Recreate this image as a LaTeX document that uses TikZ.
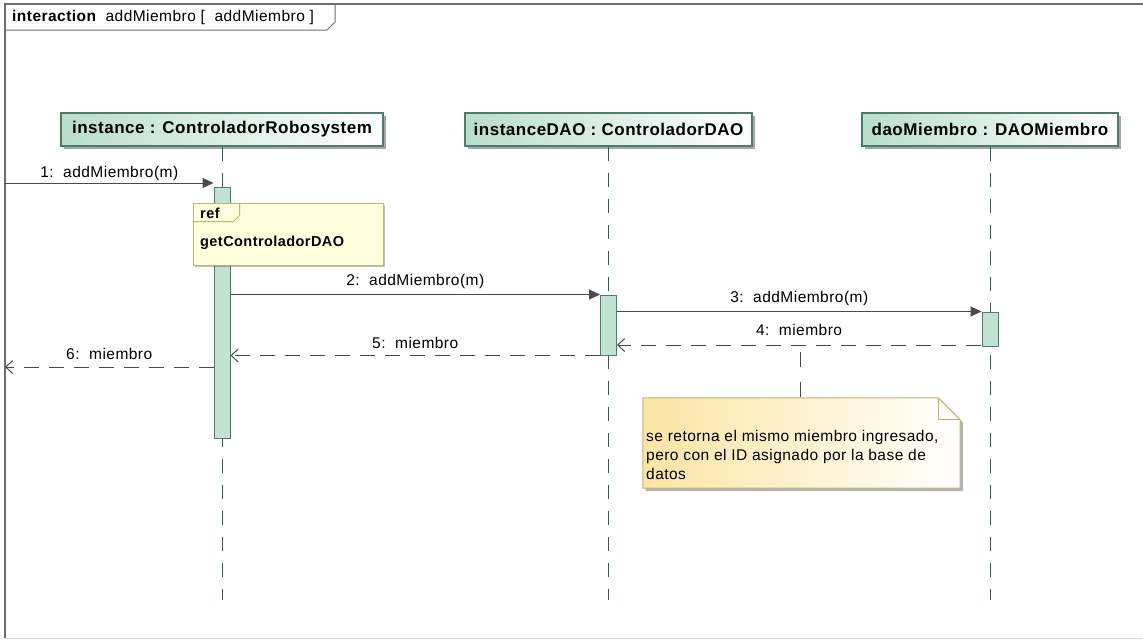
\documentclass[tikz,border=0pt]{standalone}
\usepackage{fontspec}
\setmainfont{Liberation Sans}[LetterSpace=3]
\usetikzlibrary{arrows.meta,shadows}
\definecolor{frameC}{HTML}{6E6E6E}
\definecolor{headL}{HTML}{B9DECB}
\definecolor{headB}{HTML}{4D7D65}
\definecolor{actF}{HTML}{C2E3D3}
\definecolor{actB}{HTML}{4E7E66}
\definecolor{lifeC}{HTML}{2E5E48}
\definecolor{msgC}{HTML}{4A4A4A}
\definecolor{refF}{HTML}{FFFFDD}
\definecolor{refB}{HTML}{BDB772}
\definecolor{noteL}{HTML}{FCE5A2}
\definecolor{noteB}{HTML}{C2B27A}
\begin{document}
\begin{tikzpicture}[x=1pt,y=-1pt,
  headbox/.style={draw=headB, line width=1.2pt, left color=headL, right color=white,
    minimum height=33pt, inner sep=0pt,
    font=\bfseries\fontsize{17}{20}\selectfont,
    drop shadow={shadow xshift=3pt, shadow yshift=-3pt, fill=black, opacity=0.35}},
  life/.style={draw=lifeC, line width=0.9pt, dash pattern=on 14pt off 12pt},
  actbox/.style={draw=actB, line width=1pt, fill=actF, minimum width=16pt, inner sep=0pt},
  msg/.style={draw=msgC, line width=1pt, -{Triangle[length=11pt,width=10pt]}},
  ret/.style={draw=msgC, line width=1pt, dash pattern=on 15pt off 10pt, -{Straight Barb[length=7pt,width=13pt]}},
  lbl/.style={font=\fontsize{15.5}{18}\selectfont, text=black, inner sep=0pt, anchor=center, yshift=13pt},
  reffont/.style={font=\bfseries\fontsize{14.5}{17}\selectfont, inner sep=0pt}
]
\useasboundingbox (0,0) rectangle (1143,640);
\fill[white] (0,0) rectangle (1143,640);

% frame
\draw[black!15, line width=1pt] (5,638) -- (1143,638);
\draw[frameC, line width=1.2pt] (5,638) -- (5,4) -- (1143,4);
\node[anchor=west, inner sep=0pt, font=\fontsize{15.5}{18}\selectfont] (title) at (12,17)
  {{\bfseries interaction}\ \ addMiembro [\ \ addMiembro ]};
\draw[frameC, line width=1pt] (5,30) -- (327,30) -- (335,22) -- (335,4);

% lifeline heads
\node[headbox, minimum width=322pt] (h1) at (222,129.5) {instance : ControladorRobosystem};
\node[headbox, minimum width=287pt] (h2) at (608.5,129.5) {instanceDAO : ControladorDAO};
\node[headbox, minimum width=256pt] (h3) at (990,129.5) {daoMiembro : DAOMiembro};

% lifelines
\coordinate (e1) at (222,600);
\coordinate (e2) at (608.5,600);
\coordinate (e3) at (990,600);
\draw[life] (h1.south) -- (e1);
\draw[life] (h2.south) -- (e2);
\draw[life] (h3.south) -- (e3);

% activations
\node[actbox, minimum height=251pt] (a1) at (222,312.5) {};
\node[actbox, minimum height=60pt] (a2) at (608.5,325) {};
\node[actbox, minimum height=34pt] (a3) at (990,329) {};

% ref fragment
\node[draw=refB, line width=1pt, fill=refF, minimum width=190pt, minimum height=62pt, inner sep=0pt,
  drop shadow={shadow xshift=2pt, shadow yshift=-2pt, fill=black, opacity=0.25}] (rf) at (288,234) {};
\draw[refB, line width=1pt] (rf.north west) ++(0,19) -- ++(41,0) -- ++(6,-6) -- ++(0,-13);
\node[reffont, anchor=west] (reft) at (200,213) {ref};
\node[reffont, anchor=west] (refn) at (200,243) {getControladorDAO};

% messages
\coordinate (g1) at (5,183);
\draw[msg] (g1) -- (g1 -| a1.west) node[midway, lbl, yshift=-3pt] (l1) {1:\ \ addMiembro(m)};
\draw[msg] (a1.east |- a2.north) -- (a2.north west) node[midway, lbl] (l2) {2:\ \ addMiembro(m)};
\draw[msg] (a2.east |- a3.north) -- (a3.north west) node[midway, lbl] (l3) {3:\ \ addMiembro(m)};
\coordinate (r4) at (981,345);
\draw[ret] (r4) -- (r4 -| a2.east) node[midway, lbl, yshift=2pt] (l4) {4:\ \ miembro};
\draw[ret] (a2.south west) -- (a2.south west -| a1.east) node[midway, lbl] (l5) {5:\ \ miembro};
\coordinate (g6) at (5,367);
\draw[ret] (g6 -| a1.west) -- (g6) node[midway, lbl] (l6) {6:\ \ miembro};

% note
\node[minimum width=317pt, minimum height=90pt, inner sep=0pt] (nt) at (801.5,443) {};
\fill[black, opacity=0.3] ([xshift=3pt,yshift=-3pt]nt.north west) -- ([xshift=-19pt,yshift=-3pt]nt.north east)
  -- ([xshift=3pt,yshift=-25pt]nt.north east) -- ([xshift=3pt,yshift=-3pt]nt.south east)
  -- ([xshift=3pt,yshift=-3pt]nt.south west) -- cycle;
\path[draw=noteB, line width=1pt, left color=noteL, right color=white]
  (nt.north west) -- ([xshift=-22pt]nt.north east) -- ([yshift=-22pt]nt.north east)
  -- (nt.south east) -- (nt.south west) -- cycle;
\draw[noteB, line width=1pt] ([xshift=-22pt]nt.north east) -- ([xshift=-22pt,yshift=-22pt]nt.north east)
  -- ([yshift=-22pt]nt.north east);
\node[anchor=north west, align=left, inner sep=0pt, font=\fontsize{15.5}{19}\selectfont] (ntx) at (646,430)
  {se retorna el mismo miembro ingresado,\\pero con el ID asignado por la base de\\datos};
\coordinate (na) at (800,346);
\draw[msgC, line width=1pt, dash pattern=on 15pt off 15pt, dash phase=-6pt] (na) -- (na |- nt.north);
\end{tikzpicture}
\end{document}
